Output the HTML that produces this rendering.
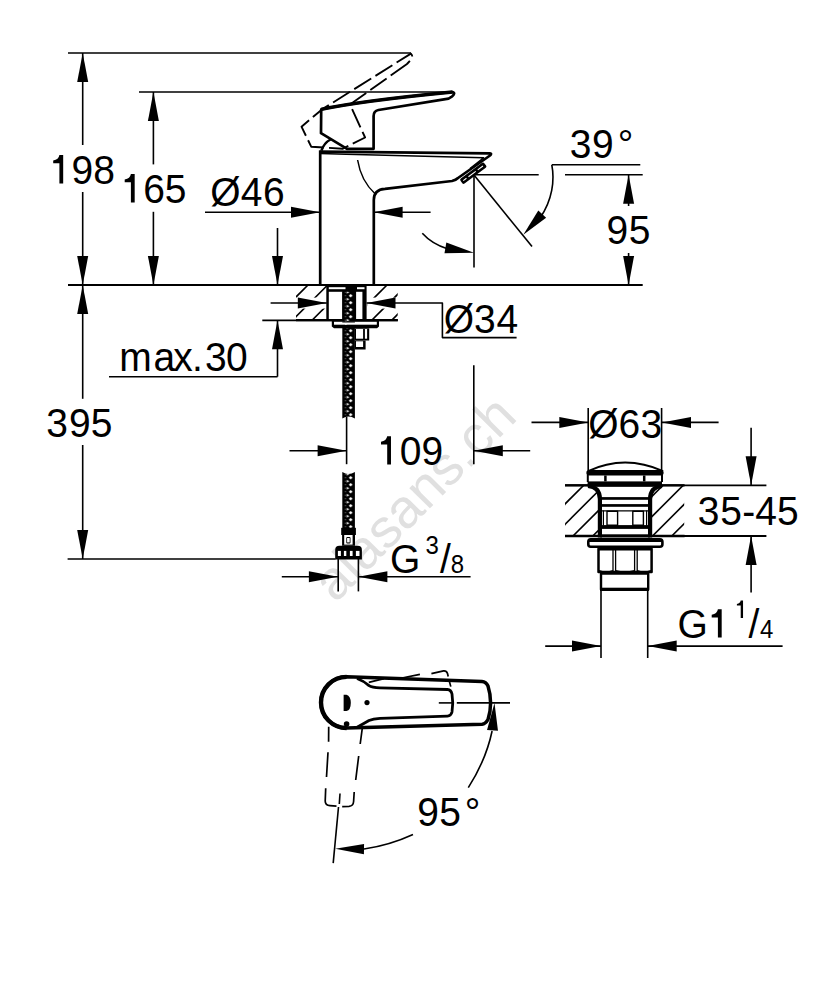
<!DOCTYPE html>
<html><head><meta charset="utf-8"><style>
html,body{margin:0;padding:0;background:#fff;}
svg{display:block;}
text{font-family:"Liberation Sans",sans-serif;}
</style></head><body>
<svg width="834" height="1000" viewBox="0 0 834 1000" stroke="#000" fill="#000" stroke-linecap="butt" stroke-linejoin="round">
<rect x="0" y="0" width="834" height="1000" fill="#fff" stroke="none"/>
<text transform="translate(335.5,603.7) rotate(-45.3)" font-size="54.5" fill="#e0e0e0" stroke="none">alasans.ch</text>
<defs>
<clipPath id="cthL"><rect stroke="none" x="296" y="286" width="31" height="33.5"/></clipPath>
<clipPath id="cthR"><rect stroke="none" x="367.5" y="286" width="30.2" height="33.5"/></clipPath>
<pattern id="braid" x="342.3" y="0" width="13" height="7" patternUnits="userSpaceOnUse">
<rect x="0" y="0" width="13" height="7" fill="#000" stroke="none"/>
<polygon points="8.4,-0.1 10.2,1.7 8.4,3.5 6.6,1.7" fill="#fff" stroke="none"/>
<polygon points="8.4,6.9 10.2,8.7 8.4,10.5 6.6,8.7" fill="#fff" stroke="none"/>
<polygon points="4.6,3.7 6.9,5.2 4.6,6.8" fill="#fff" stroke="none"/>
<rect x="2.7" y="1.2" width="1" height="1" fill="#888" stroke="none"/>
<rect x="2.7" y="4.7" width="1" height="1" fill="#888" stroke="none"/>
</pattern>
</defs>
<g stroke="#000" stroke-width="1.6" stroke-linecap="butt">
<g clip-path="url(#cthL)">
<line x1="283" y1="310" x2="310" y2="283"/>
<line x1="283" y1="329.7" x2="330" y2="282.7"/>
<line x1="300" y1="332.3" x2="340" y2="292.3"/>
</g>
<g clip-path="url(#cthR)">
<line x1="360" y1="312" x2="390" y2="282"/>
<line x1="370" y1="322" x2="410" y2="282"/>
<line x1="390" y1="322" x2="410" y2="302"/>
</g>
</g>
<rect x="296" y="297.6" width="31" height="11" fill="#fff" stroke="none"/>
<rect x="367.5" y="297.6" width="30.2" height="11" fill="#fff" stroke="none"/>
<defs>
<clipPath id="cdL"><path d="M565,486 H589 Q599,487 600,496 V535.5 H565 Z"/></clipPath>
<clipPath id="cdR"><path d="M661.6,486 H684.2 V535.5 H650 V496 Q651,487 661.6,486 Z"/></clipPath>
</defs>
<g stroke="#000" stroke-width="1.6">
<g clip-path="url(#cdL)">
<line x1="555" y1="514" x2="595" y2="474"/>
<line x1="555" y1="534.3" x2="610" y2="479.3"/>
<line x1="565" y1="544" x2="615" y2="494"/>
<line x1="585" y1="543.8" x2="615" y2="513.8"/>
</g>
<g clip-path="url(#cdR)">
<line x1="640" y1="508.3" x2="670" y2="478.3"/>
<line x1="640" y1="528.5" x2="690" y2="478.5"/>
<line x1="645" y1="543.5" x2="695" y2="493.5"/>
<line x1="665" y1="542.8" x2="695" y2="512.8"/>
</g>
</g>

<g stroke="none">
<path transform="translate(53.20,183.40) scale(39)" d="M0.256,0 V-0.726 H0.159 Q0.14,-0.61 0,-0.585 V-0.518 H0.159 V0 Z" stroke="none" fill="#000"/>
<text transform="translate(71.55,183.90) scale(0.9569,1)" font-size="40.75">9</text>
<text transform="translate(93.15,183.90) scale(0.9569,1)" font-size="40.75">8</text>
<path transform="translate(124.70,202.40) scale(39)" d="M0.256,0 V-0.726 H0.159 Q0.14,-0.61 0,-0.585 V-0.518 H0.159 V0 Z" stroke="none" fill="#000"/>
<text transform="translate(143.35,202.90) scale(0.9569,1)" font-size="40.75">6</text>
<text transform="translate(164.84,202.90) scale(0.9569,1)" font-size="40.75">5</text>
<text transform="translate(210.14,205.50) scale(0.9569,1)" font-size="40.75">Ø</text>
<text transform="translate(240.72,205.50) scale(0.9569,1)" font-size="40.75">4</text>
<text transform="translate(262.95,205.50) scale(0.9569,1)" font-size="40.75">6</text>
<text transform="translate(569.64,158.20) scale(0.9569,1)" font-size="40.75">3</text>
<text transform="translate(592.04,158.20) scale(0.9569,1)" font-size="40.75">9</text>
<text transform="translate(617.86,158.20) scale(0.9569,1)" font-size="40.75">°</text>
<text transform="translate(606.54,243.90) scale(0.9569,1)" font-size="40.75">9</text>
<text transform="translate(628.64,243.90) scale(0.9569,1)" font-size="40.75">5</text>
<text transform="translate(119.17,371.10) scale(0.9569,1)" font-size="40.75">m</text>
<text transform="translate(153.55,371.10) scale(0.9569,1)" font-size="40.75">a</text>
<text transform="translate(173.22,371.10) scale(0.9569,1)" font-size="40.75">x</text>
<text transform="translate(192.09,371.10) scale(0.9569,1)" font-size="40.75">.</text>
<text transform="translate(204.94,371.10) scale(0.9569,1)" font-size="40.75">3</text>
<text transform="translate(225.94,371.10) scale(0.9569,1)" font-size="40.75">0</text>
<text transform="translate(443.74,332.60) scale(0.9569,1)" font-size="40.75">Ø</text>
<text transform="translate(473.94,332.60) scale(0.9569,1)" font-size="40.75">3</text>
<text transform="translate(496.62,332.60) scale(0.9569,1)" font-size="40.75">4</text>
<text transform="translate(46.14,436.60) scale(0.9569,1)" font-size="40.75">3</text>
<text transform="translate(68.95,436.60) scale(0.9569,1)" font-size="40.75">9</text>
<text transform="translate(90.74,436.60) scale(0.9569,1)" font-size="40.75">5</text>
<path transform="translate(381.00,464.60) scale(39)" d="M0.256,0 V-0.726 H0.159 Q0.14,-0.61 0,-0.585 V-0.518 H0.159 V0 Z" stroke="none" fill="#000"/>
<text transform="translate(399.64,465.10) scale(0.9569,1)" font-size="40.75">0</text>
<text transform="translate(421.44,465.10) scale(0.9569,1)" font-size="40.75">9</text>
<text transform="translate(588.14,438.20) scale(0.9569,1)" font-size="40.75">Ø</text>
<text transform="translate(618.55,438.20) scale(0.9569,1)" font-size="40.75">6</text>
<text transform="translate(640.44,438.20) scale(0.9569,1)" font-size="40.75">3</text>
<text transform="translate(697.84,525.40) scale(0.9569,1)" font-size="40.75">3</text>
<text transform="translate(720.14,525.40) scale(0.9569,1)" font-size="40.75">5</text>
<text transform="translate(742.25,525.40) scale(0.9569,1)" font-size="40.75">-</text>
<text transform="translate(755.23,525.40) scale(0.9569,1)" font-size="40.75">4</text>
<text transform="translate(776.94,525.40) scale(0.9569,1)" font-size="40.75">5</text>
<text transform="translate(677.45,638.10) scale(0.9569,1)" font-size="40.75">G</text>
<path transform="translate(711.70,637.60) scale(39)" d="M0.256,0 V-0.726 H0.159 Q0.14,-0.61 0,-0.585 V-0.518 H0.159 V0 Z" stroke="none" fill="#000"/>
<path transform="translate(736.90,618.00) scale(24)" d="M0.256,0 V-0.726 H0.159 Q0.14,-0.61 0,-0.585 V-0.518 H0.159 V0 Z" stroke="none" fill="#000"/>
<text transform="translate(748.40,638.10) scale(0.9569,1)" font-size="40.75">/</text>
<text transform="translate(760.00,637.90) scale(0.9569,1)" font-size="25.08">4</text>
<text transform="translate(390.05,573.40) scale(0.9569,1)" font-size="40.75">G</text>
<text transform="translate(425.54,554.00) scale(0.9569,1)" font-size="25.08">3</text>
<text transform="translate(440.00,573.40) scale(0.9569,1)" font-size="40.75">/</text>
<text transform="translate(450.82,572.90) scale(0.9569,1)" font-size="25.08">8</text>
<text transform="translate(417.35,826.10) scale(0.9569,1)" font-size="40.75">9</text>
<text transform="translate(439.14,826.10) scale(0.9569,1)" font-size="40.75">5</text>
<text transform="translate(464.76,826.10) scale(0.9569,1)" font-size="40.75">°</text>
</g>
<line x1="68" y1="53" x2="411" y2="53" stroke-width="1.6"/>
<line x1="139" y1="92" x2="453" y2="92" stroke-width="1.6"/>
<line x1="82.7" y1="53" x2="82.7" y2="145" stroke-width="1.6"/>
<line x1="82.7" y1="192" x2="82.7" y2="285" stroke-width="1.6"/>
<polygon points="82.70,53.00 88.20,82.00 77.20,82.00" stroke="none"/>
<polygon points="82.70,285.00 77.20,256.00 88.20,256.00" stroke="none"/>
<line x1="153.4" y1="92" x2="153.4" y2="164.4" stroke-width="1.6"/>
<line x1="153.4" y1="211.8" x2="153.4" y2="285" stroke-width="1.6"/>
<polygon points="153.40,92.00 158.90,121.00 147.90,121.00" stroke="none"/>
<polygon points="153.40,285.00 147.90,256.00 158.90,256.00" stroke="none"/>
<line x1="68" y1="285" x2="642.7" y2="285" stroke-width="1.8"/>
<line x1="82.7" y1="285" x2="82.7" y2="398.8" stroke-width="1.6"/>
<line x1="82.7" y1="445" x2="82.7" y2="559" stroke-width="1.6"/>
<polygon points="82.70,285.00 88.20,314.00 77.20,314.00" stroke="none"/>
<polygon points="82.70,559.00 77.20,530.00 88.20,530.00" stroke="none"/>
<line x1="67.6" y1="559" x2="335.5" y2="559" stroke-width="1.6"/>
<line x1="205" y1="212.3" x2="320" y2="212.3" stroke-width="1.6"/>
<polygon points="320.00,212.30 291.00,217.80 291.00,206.80" stroke="none"/>
<polygon points="373.60,212.30 402.60,206.80 402.60,217.80" stroke="none"/>
<line x1="373.6" y1="212.3" x2="430.6" y2="212.3" stroke-width="1.6"/>
<line x1="277.5" y1="228" x2="277.5" y2="285" stroke-width="1.6"/>
<polygon points="277.50,285.00 272.00,256.00 283.00,256.00" stroke="none"/>
<polygon points="277.50,320.30 283.00,349.30 272.00,349.30" stroke="none"/>
<line x1="277.5" y1="320.3" x2="277.5" y2="376.7" stroke-width="1.6"/>
<line x1="109" y1="376.7" x2="277.5" y2="376.7" stroke-width="1.6"/>
<line x1="262.3" y1="320.3" x2="397.7" y2="320.3" stroke-width="1.8"/>
<line x1="270.6" y1="303" x2="326.8" y2="303" stroke-width="1.6"/>
<polygon points="326.80,303.00 297.80,308.50 297.80,297.50" stroke="none"/>
<polygon points="366.50,303.00 395.50,297.50 395.50,308.50" stroke="none"/>
<path d="M366.5,303 H442.4 V337.6 H516.6" stroke-width="1.6" fill="none" />
<line x1="474.4" y1="174.7" x2="538.7" y2="174.7" stroke-width="1.6"/>
<line x1="565" y1="174.7" x2="642.7" y2="174.7" stroke-width="1.6"/>
<line x1="551.8" y1="164.8" x2="640.3" y2="164.8" stroke-width="1.6"/>
<line x1="474" y1="175" x2="532" y2="246.6" stroke-width="1.6"/>
<path d="M551.8,164.8 C554.8,180 552.5,200 540,218" stroke-width="1.6" fill="none" />
<polygon points="523.30,234.80 538.31,210.58 546.13,217.74" stroke="none"/>
<line x1="628.6" y1="174.7" x2="628.6" y2="206" stroke-width="1.6"/>
<polygon points="628.60,174.70 634.10,203.70 623.10,203.70" stroke="none"/>
<line x1="628.6" y1="253" x2="628.6" y2="285" stroke-width="1.6"/>
<polygon points="628.60,285.00 623.10,256.00 634.10,256.00" stroke="none"/>
<line x1="474" y1="175" x2="474" y2="267.6" stroke-width="1.6"/>
<path d="M422.3,233.2 Q432,244 448,249" stroke-width="1.6" fill="none" />
<polygon points="474.00,252.80 444.49,253.36 446.33,242.52" stroke="none"/>
<line x1="289.5" y1="450.8" x2="346.6" y2="450.8" stroke-width="1.6"/>
<polygon points="346.60,450.80 317.60,456.30 317.60,445.30" stroke="none"/>
<polygon points="473.80,450.80 502.80,445.30 502.80,456.30" stroke="none"/>
<line x1="473.8" y1="450.8" x2="530.2" y2="450.8" stroke-width="1.6"/>
<line x1="473.8" y1="365.2" x2="473.8" y2="464.2" stroke-width="1.6"/>
<line x1="346.6" y1="417" x2="346.6" y2="464.2" stroke-width="1.6"/>
<line x1="281.8" y1="576.7" x2="337.9" y2="576.7" stroke-width="1.6"/>
<polygon points="337.90,576.70 308.90,582.20 308.90,571.20" stroke="none"/>
<polygon points="358.40,576.70 387.40,571.20 387.40,582.20" stroke="none"/>
<line x1="358.4" y1="576.7" x2="470.6" y2="576.7" stroke-width="1.6"/>
<line x1="338.2" y1="558.8" x2="338.2" y2="591.4" stroke-width="1.6"/>
<line x1="358.4" y1="558.8" x2="358.4" y2="591.4" stroke-width="1.6"/>
<line x1="531.5" y1="422.4" x2="588.3" y2="422.4" stroke-width="1.6"/>
<polygon points="588.30,422.40 559.30,427.90 559.30,416.90" stroke="none"/>
<polygon points="662.00,422.40 691.00,416.90 691.00,427.90" stroke="none"/>
<line x1="662" y1="422.4" x2="718.6" y2="422.4" stroke-width="1.6"/>
<line x1="588.2" y1="408" x2="588.2" y2="471.8" stroke-width="1.6"/>
<line x1="661.6" y1="408" x2="661.6" y2="471.8" stroke-width="1.6"/>
<line x1="565" y1="485.3" x2="766.4" y2="485.3" stroke-width="1.8"/>
<line x1="565" y1="536" x2="766.4" y2="536" stroke-width="1.8"/>
<line x1="751.1" y1="427.8" x2="751.1" y2="485.3" stroke-width="1.6"/>
<polygon points="751.10,485.30 745.60,456.30 756.60,456.30" stroke="none"/>
<polygon points="751.10,536.00 756.60,565.00 745.60,565.00" stroke="none"/>
<line x1="751.1" y1="536" x2="751.1" y2="592.5" stroke-width="1.6"/>
<line x1="545.2" y1="646.1" x2="601" y2="646.1" stroke-width="1.6"/>
<polygon points="601.00,646.10 572.00,651.60 572.00,640.60" stroke="none"/>
<polygon points="647.70,646.10 676.70,640.60 676.70,651.60" stroke="none"/>
<line x1="647.7" y1="646.1" x2="782.6" y2="646.1" stroke-width="1.6"/>
<line x1="601" y1="589.6" x2="601" y2="658" stroke-width="1.6"/>
<line x1="647.7" y1="589.6" x2="647.7" y2="658" stroke-width="1.6"/>
<path d="M492.1,731 Q486,760 468.3,787.6" stroke-width="1.6" fill="none" />
<polygon points="494.50,703.00 497.99,730.83 487.02,730.03" stroke="none"/>
<path d="M413,834.4 Q390,845 364,849" stroke-width="1.6" fill="none" />
<polygon points="335.20,848.80 364.05,843.90 363.94,854.30" stroke="none"/>
<g fill="none" stroke="#000">
<!-- body left -->
<path d="M320.2,285 V150.3" stroke-width="2.7"/>
<!-- body right + spout bottom + tip + spout top -->
<path d="M373.8,285 V200 Q373.8,189.5 385,188.8 L452,181 Q456,180 458,178 L490,155.5 Q492.5,153.2 489,153.4 L320.2,151.6" stroke-width="2.7"/>
<!-- thin inner spout line -->
<path d="M320.2,153.4 L346,154.3 L483.6,157.8 L470,168.5" stroke-width="1.5"/>
<!-- aerator -->
<g transform="translate(473.3,173.2) rotate(-36.5)">
<rect x="-14.8" y="-3.1" width="29.6" height="6.2" rx="1.6" fill="#000" stroke="none"/>
<line x1="-12.5" y1="0" x2="12" y2="0" stroke="#fff" stroke-width="1.1" stroke-dasharray="4,2.5,9,2.5,8"/>
</g>
<!-- inner arc -->
<path d="M357.6,160 Q361,181 375.3,194" stroke-width="1.5"/>
<!-- solid lever -->
<path d="M321.2,109.4 Q360,101 452.5,92 Q456,93 452,96.5 Q449,99 445.5,99.2 L378.4,110 Q373.6,111 373.6,116 V148.8 H347 L321,133.2 Z" stroke-width="2.7"/>
<path d="M321.2,109.4 Q360,101 452.5,92" stroke-width="3.4"/>
<!-- small arc at body top -->
<path d="M321.5,150.5 Q324,143 330.5,139.5" stroke-width="2.5"/>
<!-- dashed lever -->
<path d="M407,64 L350,104.5 L365.1,137.5 L342.5,148.8 L311.2,146.7 L301.5,126.7 L322,109.4 L410.9,53.6 Q413.5,56 411,59.5 L407,64" stroke-width="1.9" stroke-dasharray="20,5"/>
</g>

<g stroke="#000" fill="none">
<!-- countertop thick lines -->
<line x1="296" y1="285" x2="397.9" y2="285" stroke-width="2.2"/>
<line x1="296" y1="320.2" x2="397.9" y2="320.2" stroke-width="2.2"/>
<!-- mounting block -->
<rect x="326.3" y="284" width="40.3" height="37" fill="#000" stroke="none"/>
<rect x="328.8" y="287.2" width="16.7" height="2" fill="#fff" stroke="none"/>
<rect x="357" y="287.2" width="7.5" height="2" fill="#fff" stroke="none"/>
<rect x="328.8" y="291.8" width="13.5" height="27.2" fill="#fff" stroke="none"/>
<rect x="356.1" y="291.8" width="6.3" height="27.2" fill="#fff" stroke="none"/>
<!-- upper hose -->
<path d="M342.3,291.8 H354.9 V418.4 Q348.6,414.5 342.3,418.4 Z" fill="url(#braid)" stroke="none"/>
<!-- washer -->
<path d="M331.8,321 H379 V326.5 L377,328.3 H334 L331.8,326.5 Z" fill="#000" stroke="none"/>
<rect x="334" y="321.8" width="42.8" height="2.9" fill="#fff" stroke="none"/>
<rect x="345.3" y="321.5" width="1.2" height="3.5" fill="#fff" stroke="none"/>
<!-- nut -->
<rect x="354.9" y="328.3" width="14.3" height="12.2" fill="#000" stroke="none"/>
<rect x="356" y="329" width="7.1" height="9.7" fill="#fff" stroke="none"/>
<rect x="364.9" y="329" width="2.2" height="9.7" fill="#fff" stroke="none"/>
<rect x="354.9" y="340.5" width="10.7" height="9" fill="#000" stroke="none"/>
<rect x="356" y="341.3" width="7.1" height="5.7" fill="#fff" stroke="none"/>
<rect x="342.3" y="321.5" width="12.6" height="1" fill="#000" stroke="none"/>
<!-- lower hose -->
<path d="M342.3,471.9 Q348.6,476 354.9,471.9 V528 H342.3 Z" fill="url(#braid)" stroke="none"/>
<rect x="341.2" y="527.8" width="14.7" height="7.2" fill="#000" stroke="none"/>
<rect x="342.1" y="535" width="12.9" height="10.8" fill="#000" stroke="none"/>
<rect x="344.2" y="535" width="8.4" height="9.6" fill="#fff" stroke="none"/>
<rect x="346.3" y="537" width="4.2" height="6.4" rx="1" fill="#000" stroke="none"/>
<rect x="347.1" y="538" width="2.6" height="4.4" fill="#fff" stroke="none"/>
<path d="M335.2,559.6 V550 Q335.2,545.8 339.4,545.8 H357.7 Q361.9,545.8 361.9,550 V559.6 Z" fill="#000" stroke="none"/>
<rect x="337.9" y="550.9" width="3" height="5.1" fill="#fff" stroke="none"/>
<rect x="343.9" y="550.9" width="2.4" height="5.1" fill="#fff" stroke="none"/>
<rect x="349.9" y="550.9" width="2.7" height="5.1" fill="#fff" stroke="none"/>
<rect x="355.9" y="550.9" width="3.6" height="5.1" fill="#fff" stroke="none"/>

<!-- ===== drain ===== -->
<path d="M588.1,471.2 Q624.8,454 663.1,471.2" stroke-width="2"/>
<rect x="586.5" y="470.1" width="77.1" height="5.4" rx="2.7" fill="#000" stroke="none"/>
<line x1="587.8" y1="471" x2="587.8" y2="482" stroke-width="2"/>
<line x1="662" y1="471" x2="662" y2="482" stroke-width="2"/>
<line x1="605.4" y1="475.5" x2="605.4" y2="481.4" stroke-width="2.5"/>
<line x1="644.2" y1="475.5" x2="644.2" y2="481.4" stroke-width="2.5"/>
<rect x="587.6" y="481.4" width="74.4" height="5.4" fill="#000" stroke="none"/>
<path d="M588,486 Q599.9,487 599.9,499 V537.5" stroke-width="4.2"/>
<path d="M662,486 Q650.1,487 650.1,499 V537.5" stroke-width="4.2"/>
<rect x="600" y="497.1" width="50" height="2.7" fill="#000" stroke="none"/>
<rect x="600" y="504.1" width="50" height="2.7" fill="#000" stroke="none"/>
<line x1="602" y1="510.9" x2="648" y2="510.9" stroke-width="1.3"/>
<rect x="607" y="511.2" width="10.6" height="14" stroke-width="1.4"/>
<rect x="632.8" y="511.2" width="10.6" height="14" stroke-width="1.4"/>
<line x1="603.4" y1="510.6" x2="603.4" y2="525.5" stroke-width="1.2"/>
<line x1="646.6" y1="510.6" x2="646.6" y2="525.5" stroke-width="1.2"/>
<rect x="600" y="525.1" width="50" height="3.8" fill="#000" stroke="none"/>
<rect x="600" y="534.3" width="50" height="3.2" fill="#000" stroke="none"/>
<!-- flange -->
<rect x="588.3" y="539.3" width="74.1" height="7.5" rx="2.5" stroke-width="2.6"/>
<line x1="589" y1="540.8" x2="662" y2="540.8" stroke-width="2.2"/>
<!-- hex nut -->
<rect x="598.5" y="548.8" width="53.1" height="23.2" stroke-width="2.5"/>
<line x1="598.5" y1="549.2" x2="651.6" y2="549.2" stroke-width="2.8"/>
<line x1="613" y1="549" x2="613" y2="571" stroke-width="1.3"/>
<line x1="615.6" y1="549" x2="615.6" y2="571" stroke-width="1.3"/>
<line x1="634.6" y1="549" x2="634.6" y2="571" stroke-width="1.3"/>
<line x1="637.2" y1="549" x2="637.2" y2="571" stroke-width="1.3"/>
<path d="M599,570.5 Q606,573 613,570.5 M615.6,570.5 Q625,573.5 634.6,570.5 M637.2,570.5 Q644,573 651,570.5" stroke-width="1.3"/>
<rect x="601" y="573.5" width="47.2" height="16" stroke-width="2.4"/>
<rect x="600" y="587.7" width="49" height="3.3" fill="#000" stroke="none"/>
</g>

<g stroke="#000" fill="none">
<line x1="565" y1="485.3" x2="590" y2="485.3" stroke-width="2.3"/>
<line x1="660" y1="485.3" x2="684.6" y2="485.3" stroke-width="2.3"/>
<line x1="565" y1="536" x2="600" y2="536" stroke-width="2.3"/>
<line x1="650" y1="536" x2="684.6" y2="536" stroke-width="2.3"/>
<!-- ===== top view lever ===== -->
<!-- dashed rotated (95deg) position -->
<path d="M328.7,726.7 L328.6,741.7 M328,752.2 L326.5,777 M325.7,788.2 L325.2,801 Q325.2,805.3 330,805.6 L336.5,806.2 M342.2,806.6 L349,806.3 Q353.3,806 353.6,801.5 L354.2,792 M355.7,780 L358.7,756 M360.2,744 L362.5,726.7" stroke-width="1.7"/>
<!-- dashed slight position top -->
<path d="M368.8,682.3 L383.9,678.7 M401.9,678 L419.9,674.4 M431.4,673.7 L443.6,670.8 Q446.5,670.5 447.5,673.5 L448.2,676.5 M449,680 L450.8,686.6" stroke-width="1.7"/>
<!-- outer outline -->
<path d="M346.6,676.85 L482,681.6 Q486,681.8 488,686 Q490.6,694 490.6,703 Q490.6,712 488,719.5 Q485.5,724 482,724.2 L346.6,728.05 A25.6,25.6 0 0 1 346.6,676.85 Z" stroke-width="3.5"/>
<path d="M346.6,728.05 A25.6,25.6 0 0 1 346.6,676.85" stroke-width="4.4"/>
<!-- inner outline -->
<path d="M357,678.5 Q364,681 369,685.6 Q372,687.5 380,687.8 L447.5,689.5 Q451,689.7 452,694 Q453.5,703 452,712 Q451,716 447.5,716.1 L380,718.4 Q373,718.8 369,720.5 Q363,724 356.6,727.5" stroke-width="2.8"/>
<!-- marks -->
<path d="M343.6,694.8 H346.5 Q350.8,696 350.8,703 Q350.8,710 346.5,711 H343.6 Z" fill="#000" stroke="none"/>
<circle cx="367" cy="702.6" r="2.6" fill="#000" stroke="none"/>
<circle cx="346.6" cy="724.1" r="2.8" fill="#000" stroke="none"/>
<!-- center line -->
<line x1="438.8" y1="702.9" x2="452.5" y2="702.9" stroke-width="1.6"/>
<line x1="456.8" y1="702.9" x2="510" y2="702.9" stroke-width="1.6"/>
<!-- axis line rotated -->
<line x1="340" y1="793.5" x2="339.3" y2="804" stroke-width="1.6"/>
<line x1="338.5" y1="807" x2="333.2" y2="863.2" stroke-width="1.6"/>
</g>

</svg>
</body></html>
